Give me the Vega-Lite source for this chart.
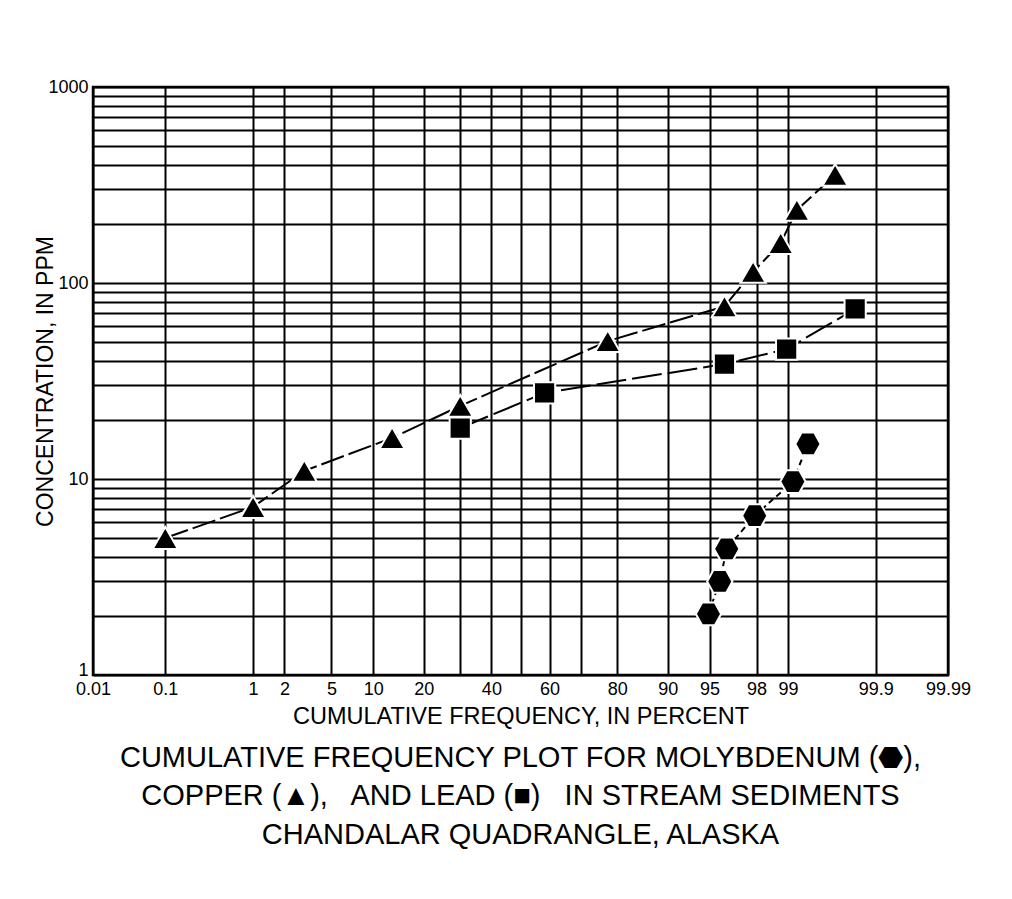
{
  "$schema": "https://vega.github.io/schema/vega-lite/v6.json",
  "width": 855,
  "height": 588,
  "autosize": {"type": "none"},
  "padding": {"left": 93, "top": 87, "right": 64, "bottom": 224},
  "background": "white",
  "config": {
    "view": {"stroke": "black", "strokeWidth": 2.5},
    "font": "Liberation Sans"
  },
  "title": {
    "text": [
      "CUMULATIVE FREQUENCY PLOT FOR MOLYBDENUM (⬣),",
      "COPPER (▲),\u00a0\u00a0 AND LEAD (■)\u00a0\u00a0 IN STREAM SEDIMENTS",
      "CHANDALAR QUADRANGLE, ALASKA"
    ],
    "orient": "bottom",
    "anchor": "middle",
    "frame": "group",
    "fontSize": 29,
    "fontWeight": "normal",
    "font": "Liberation Sans",
    "color": "black",
    "lineHeight": 38.5,
    "baseline": "alphabetic",
    "offset": 39
  },
  "data": {
    "values": [
      {"element": "Copper", "pct": 0.1, "ppm": 5},
      {"element": "Copper", "pct": 1, "ppm": 7.2},
      {"element": "Copper", "pct": 3, "ppm": 11},
      {"element": "Copper", "pct": 13.2, "ppm": 16.2},
      {"element": "Copper", "pct": 30, "ppm": 23.6},
      {"element": "Copper", "pct": 77.6, "ppm": 50.5},
      {"element": "Copper", "pct": 96.2, "ppm": 76},
      {"element": "Copper", "pct": 97.85, "ppm": 114},
      {"element": "Copper", "pct": 98.82, "ppm": 160},
      {"element": "Copper", "pct": 99.19, "ppm": 236},
      {"element": "Copper", "pct": 99.69, "ppm": 356},
      {"element": "Lead", "pct": 30, "ppm": 18.2},
      {"element": "Lead", "pct": 58.3, "ppm": 27.5},
      {"element": "Lead", "pct": 96.2, "ppm": 38.6},
      {"element": "Lead", "pct": 98.97, "ppm": 46},
      {"element": "Lead", "pct": 99.82, "ppm": 73.7},
      {"element": "Molybdenum", "pct": 94.9, "ppm": 2.05},
      {"element": "Molybdenum", "pct": 95.85, "ppm": 3.0},
      {"element": "Molybdenum", "pct": 96.36, "ppm": 4.4},
      {"element": "Molybdenum", "pct": 97.92, "ppm": 6.5},
      {"element": "Molybdenum", "pct": 99.11, "ppm": 9.7},
      {"element": "Molybdenum", "pct": 99.38, "ppm": 15.1}
    ]
  },
  "transform": [
    {"calculate": "quantileNormal(datum.pct / 100)", "as": "z"}
  ],
  "layer": [
    {
      "mark": {"type": "line", "color": "black", "strokeWidth": 2},
      "encoding": {
        "x": {
          "field": "z",
          "type": "quantitative",
          "scale": {"domain": [-3.719, 3.719], "nice": false, "zero": false},
          "axis": {
            "values": [-3.719, -3.0902, -2.3263, -2.0537, -1.6449, -1.2816, -0.8416, -0.5244, -0.2533, 0, 0.2533, 0.5244, 0.8416, 1.2816, 1.6449, 2.0537, 2.3263, 3.0902, 3.719],
            "labelExpr": "(datum.value == 0 || abs(abs(datum.value) - 0.5244) < 0.001) ? '' : format(cumulativeNormal(datum.value) * 100, '.2~f')",
            "grid": true,
            "gridColor": "black",
            "gridWidth": 2,
            "gridOpacity": 1,
            "ticks": false,
            "domain": false,
            "labelFontSize": 18,
            "labelColor": "black",
            "labelPadding": 5,
            "labelFlush": false,
            "labelOverlap": false,
            "labelFont": "Liberation Sans",
            "title": "CUMULATIVE FREQUENCY, IN PERCENT",
            "titleFont": "Liberation Sans",
            "titleFontSize": 23.5,
            "titleFontWeight": "normal",
            "titleColor": "black",
            "titleY": 48,
            "titleBaseline": "alphabetic"
          }
        },
        "y": {
          "field": "ppm",
          "type": "quantitative",
          "scale": {"type": "log", "domain": [1, 1000], "nice": false},
          "axis": {
            "values": [1, 2, 3, 4, 5, 6, 7, 8, 9, 10, 20, 30, 40, 50, 60, 70, 80, 90, 100, 200, 300, 400, 500, 600, 700, 800, 900, 1000],
            "labelExpr": "indexof([1, 10, 100, 1000], datum.value) >= 0 ? format(datum.value, 'd') : ''",
            "labelBaseline": {"condition": {"test": "datum.value == 1", "value": "alphabetic"}, "value": "middle"},
            "grid": true,
            "gridColor": "black",
            "gridWidth": 2,
            "gridOpacity": 1,
            "ticks": false,
            "domain": false,
            "labelFontSize": 18,
            "labelColor": "black",
            "labelPadding": 5,
            "labelFlush": false,
            "labelOverlap": false,
            "labelFont": "Liberation Sans",
            "title": "CONCENTRATION, IN PPM",
            "titleFont": "Liberation Sans",
            "titleFontSize": 23,
            "titleFontWeight": "normal",
            "titleColor": "black",
            "titleX": -41,
            "titleBaseline": "alphabetic"
          }
        },
        "detail": {"field": "element"},
        "strokeDash": {
          "field": "element",
          "type": "nominal",
          "scale": {"domain": ["Copper", "Lead", "Molybdenum"], "range": [[24, 5], [30, 6], [6, 4]]},
          "legend": null
        }
      }
    },
    {
      "mark": {"type": "point", "filled": true, "fill": "black", "opacity": 1, "stroke": "white", "strokeWidth": 2},
      "encoding": {
        "x": {"field": "z", "type": "quantitative"},
        "y": {"field": "ppm", "type": "quantitative"},
        "shape": {
          "field": "element",
          "type": "nominal",
          "scale": {"domain": ["Copper", "Lead", "Molybdenum"], "range": ["triangle-up", "square", "M-1,0L-0.5,-0.9L0.5,-0.9L1,0L0.5,0.9L-0.5,0.9Z"]},
          "legend": null
        },
        "size": {
          "field": "element",
          "type": "nominal",
          "scale": {"type": "ordinal", "domain": ["Copper", "Lead", "Molybdenum"], "range": [640, 450, 640]},
          "legend": null
        }
      }
    }
  ]
}
